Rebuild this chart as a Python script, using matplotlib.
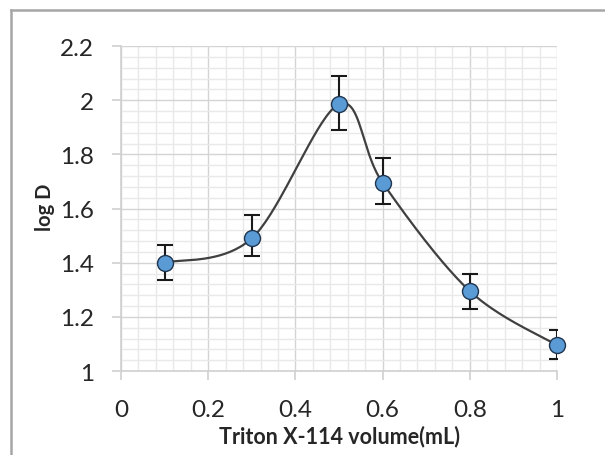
import numpy as np
import matplotlib
matplotlib.use("Agg")
import matplotlib.pyplot as plt
from matplotlib.ticker import MultipleLocator
from matplotlib.lines import Line2D

volume = [0.1, 0.3, 0.5, 0.6, 0.8, 1.0]
log_d = [1.40, 1.49, 1.985, 1.695, 1.295, 1.095]
err_up = [0.065, 0.085, 0.105, 0.09, 0.065, 0.055]
err_down = [0.065, 0.065, 0.095, 0.08, 0.065, 0.05]

x_ticks = [0, 0.2, 0.4, 0.6, 0.8, 1]
x_tick_labels = ["0", "0.2", "0.4", "0.6", "0.8", "1"]
y_ticks = [1, 1.2, 1.4, 1.6, 1.8, 2, 2.2]
y_tick_labels = ["1", "1.2", "1.4", "1.6", "1.8", "2", "2.2"]

plt.rcParams['font.family'] = ['Lato', 'DejaVu Sans']

fig = plt.figure(figsize=(6.05, 4.56), dpi=100)
ax = fig.add_axes([0.2, 0.1842, 0.7207, 0.7127])


def smooth(xs, ys, n=40):
    P = np.column_stack([xs, ys])
    out = []
    for i in range(len(P) - 1):
        p0 = P[i - 1] if i > 0 else P[i]
        p1 = P[i]
        p2 = P[i + 1]
        p3 = P[i + 2] if i + 2 < len(P) else P[i + 1]
        c1 = p1 + (p2 - p0) / 6.0
        c2 = p2 - (p3 - p1) / 6.0
        t = np.linspace(0, 1, n)[:, None]
        seg = ((1 - t) ** 3) * p1 + 3 * ((1 - t) ** 2) * t * c1 + 3 * (1 - t) * t ** 2 * c2 + t ** 3 * p2
        out.append(seg if i == 0 else seg[1:])
    return np.vstack(out)


curve = smooth(volume, log_d)
ax.plot(curve[:, 0], curve[:, 1], color="#404040", lw=1.6, zorder=3)
ax.errorbar(volume, log_d, yerr=[err_down, err_up], fmt="none", ecolor="#1a1a1a",
            elinewidth=1.5, capsize=6, capthick=1.5, zorder=4)
ax.plot(volume, log_d, "o", ms=11.5, mfc="#5B9BD5", mec="#1f3550", mew=1.0, zorder=5, ls="none",
        clip_on=False)

ax.set_xlim(0, 1)
ax.set_ylim(1, 2.2)
ax.set_xticks(x_ticks)
ax.set_xticklabels(x_tick_labels)
ax.set_yticks(y_ticks)
ax.set_yticklabels(y_tick_labels)
ax.xaxis.set_minor_locator(MultipleLocator(0.04))
ax.yaxis.set_minor_locator(MultipleLocator(0.04))
ax.grid(which="major", color="#d4d4d4", lw=1.0)
ax.grid(which="minor", color="#e9e9e9", lw=1.0)
ax.set_axisbelow(True)

for s in ["top", "right"]:
    ax.spines[s].set_visible(False)
for s in ["left", "bottom"]:
    ax.spines[s].set_color("#d0d0d0")
    ax.spines[s].set_linewidth(1.2)

ax.tick_params(axis="both", which="major", length=6.5, color="#d0d0d0", width=1.2,
               labelsize=17.5, labelcolor="#262626")
ax.tick_params(axis="x", pad=14)
ax.tick_params(axis="y", pad=13)
ax.tick_params(which="minor", length=0)

ax.set_xlabel("Triton X-114 volume(mL)", fontsize=15.5, fontweight="bold", color="#262626", labelpad=3)
fig.text(45 / 605, 1 - 207 / 456, "log D", rotation=90, fontsize=14.5, fontweight="bold",
         color="#262626", ha="center", va="center")

# outer chart frame (top and left edges visible)
fig.add_artist(Line2D([10.5 / 605, 1.0], [1 - 10.5 / 456, 1 - 10.5 / 456], transform=fig.transFigure,
                      color="#a6a6a6", lw=1.8))
fig.add_artist(Line2D([10.5 / 605, 10.5 / 605], [0.0, 1 - 10.5 / 456], transform=fig.transFigure,
                      color="#a6a6a6", lw=1.8))

fig.savefig("out.png", dpi=100)
